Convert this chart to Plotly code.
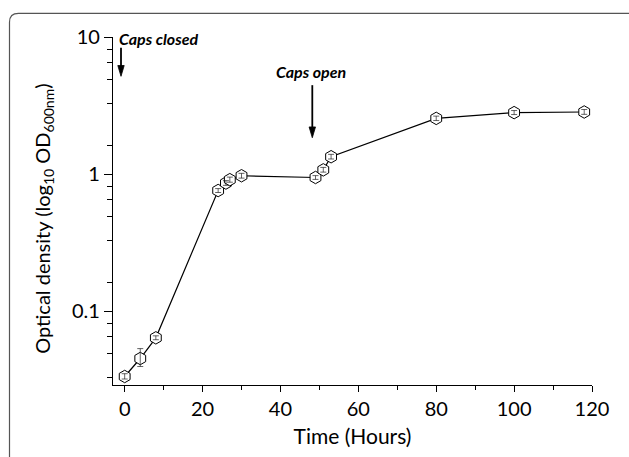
import plotly.graph_objects as go

# ---- data ----
time_h = [0, 4, 8, 24, 26, 27, 30, 49, 51, 53, 80, 100, 118]
od600 = [0.0335, 0.0453, 0.0641, 0.76, 0.862, 0.912, 0.974, 0.946, 1.075, 1.34, 2.55, 2.81, 2.84]
err_plus = [0.0016, 0.0082, 0.0022, 0.025, 0.035, 0.04, 0.04, 0.03, 0.045, 0.055, 0.10, 0.10, 0.12]
err_minus = [0.0014, 0.0057, 0.0020, 0.025, 0.033, 0.038, 0.038, 0.03, 0.04, 0.05, 0.09, 0.09, 0.11]

x_ticks = [0, 20, 40, 60, 80, 100, 120]
y_ticks = [0.1, 1, 10]
y_tick_text = ["0.1", "1", "10"]
y_minor_mult = [1.62, 3.27, 4.94, 6.55, 8.17]
y_minor = [m * d for d in (0.01, 0.1, 1) for m in y_minor_mult]

x_title = "Time (Hours)"
y_title = "Optical density (log<sub>10</sub> OD<sub>600nm</sub>)"
note_closed = "Caps closed"
note_open = "Caps open"

# ---- layout geometry (pixels) ----
W, H = 629, 457
L, R, T, B = 113, 592, 37, 391  # plot area edges


def px(x):
    return (x - L) / (R - L)


def py(y):
    return (B - y) / (B - T)


FONT = "Lato"

fig = go.Figure()
fig.add_trace(go.Scatter(
    x=time_h, y=od600, mode="lines+markers",
    line=dict(color="black", width=1.2),
    marker=dict(symbol="hexagon", size=12.5, color="white",
                line=dict(color="black", width=1)),
    showlegend=False, hoverinfo="skip",
))
# error bars drawn on top of the markers
fig.add_trace(go.Scatter(
    x=time_h, y=od600, mode="markers",
    marker=dict(size=1, opacity=0),
    error_y=dict(type="data", symmetric=False, array=err_plus, arrayminus=err_minus,
                 color="#222222", thickness=0.7, width=3),
    showlegend=False, hoverinfo="skip",
))

fig.update_layout(
    width=W, height=H,
    margin=dict(l=L, r=W - R, t=T, b=H - B),
    paper_bgcolor="white", plot_bgcolor="white",
    font=dict(family=FONT, color="black", size=20),
    xaxis=dict(
        range=[-3, 120], tickvals=x_ticks, showgrid=False, zeroline=False,
        showline=True, linecolor="black", linewidth=1.3,
        ticks="outside", ticklen=6, tickwidth=1.3, tickcolor="black",
        tickfont=dict(size=20, family=FONT),
        minor=dict(dtick=10, tick0=0, ticks="outside", ticklen=3.5, tickwidth=1.2, tickcolor="black"),
        title=dict(text=x_title, font=dict(size=21, family=FONT), standoff=10),
    ),
    yaxis=dict(
        type="log", range=[-1.537, 1], tickvals=y_ticks, ticktext=y_tick_text,
        showgrid=False, zeroline=False,
        showline=True, linecolor="black", linewidth=1.3,
        ticks="outside", ticklen=8, tickwidth=1.3, tickcolor="black",
        tickfont=dict(size=20, family=FONT),
        minor=dict(tickvals=y_minor, ticks="outside", ticklen=5, tickwidth=1.2, tickcolor="black"),
    ),
)

# y-axis title as annotation for exact placement
fig.add_annotation(text=y_title, xref="paper", yref="paper", x=px(44), y=py(222),
                   xanchor="center", yanchor="middle", textangle=-90, showarrow=False,
                   font=dict(size=20, family=FONT, color="black"))

# notes
fig.add_annotation(text=note_closed, xref="paper", yref="paper", x=px(117), y=py(39),
                   xanchor="left", yanchor="middle", showarrow=False,
                   font=dict(size=16, family=FONT, color="black", weight="bold", style="italic"))
fig.add_annotation(text=note_open, xref="paper", yref="paper", x=px(310.5), y=py(72),
                   xanchor="center", yanchor="middle", showarrow=False,
                   font=dict(size=16, family=FONT, color="black", weight="bold", style="italic"))

# arrows drawn as shapes (shaft + filled head)
for ax_x, tip_y, tail_y in [(121, 77, 48), (312.3, 139.5, 86)]:
    head_len, half_w = 11, 3.2
    fig.add_shape(type="line", xref="paper", yref="paper",
                  x0=px(ax_x), x1=px(ax_x), y0=py(tail_y), y1=py(tip_y - head_len + 1),
                  line=dict(color="black", width=1.8))
    tri = (f"M {px(ax_x - half_w)},{py(tip_y - head_len)} L {px(ax_x + half_w)},{py(tip_y - head_len)} "
           f"L {px(ax_x)},{py(tip_y)} Z")
    fig.add_shape(type="path", xref="paper", yref="paper", path=tri,
                  fillcolor="black", line=dict(color="black", width=0.8))

# rounded frame around the figure
r = 9
x0, y0, x1, y1 = px(9.5), py(13), px(660), py(480)
dx, dy = r / (R - L), r / (B - T)
path = (f"M {x0},{y1} L {x0},{y0 - dy} Q {x0},{y0} {x0 + dx},{y0} "
        f"L {x1},{y0}")
fig.add_shape(type="path", xref="paper", yref="paper", path=path,
              line=dict(color="#555555", width=1.2), layer="below")

fig.write_html("out.html")
